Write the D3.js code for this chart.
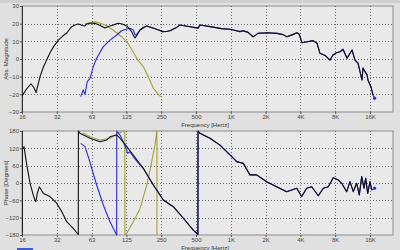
<!DOCTYPE html>
<html><head><meta charset="utf-8">
<script src="https://cdn.jsdelivr.net/npm/d3@7"></script>
<style>html,body{margin:0;padding:0;background:#e0e0e0;overflow:hidden}</style>
</head><body><svg id="c" width="400" height="250"></svg>
<script>
// ---- data ----
const freqTicks = [16,32,64,128,256,512,1024,2048,4096,8192,16384];
const freqLabels = ["16","32","63","125","250","500","1K","2K","4K","8K","16K"];
const magTicks = [30,20,10,0,-10,-20,-30];
const phaseTicks = [180,120,60,0,-60,-120,-180];

// magnitude [freq Hz, dB]
const magBlack = [[16,-21],[17.5,-17],[19.1,-14],[20.2,-16],[21.2,-19],[22.9,-10],[24.5,-4.5],[27.9,3.4],[30,7],[33,10.7],[36,13],[39,14.7],[43,18.3],[46,19.2],[48.8,19.8],[51,19.5],[53,19],[56,18.7],[58,19.8],[62,20.2],[66,20.3],[70,20],[76,19],[83.6,17.5],[88,18.2],[95.5,19],[102,19.6],[109,20.2],[118,19.8],[129,18.7],[142,15.5],[148,13],[152,12],[158,13.5],[168,16.4],[180,18],[192,18.7],[217,17.5],[240,16.5],[265,15.5],[285,15.6],[305,16],[340,17.5],[372,19.2],[430,18.5],[533,17.5],[554,19.2],[700,18.2],[850,17.2],[1008,16.8],[1100,16.3],[1230,15.5],[1306,16],[1380,15.5],[1442,15.1],[1520,13.8],[1594,12.6],[1680,13.5],[1761,14.5],[2106,14.9],[2570,14.5],[2900,13.8],[3137,12.6],[3500,13.8],[3830,14.9],[4000,14],[4230,9.2],[4700,9.8],[5265,10.4],[5700,8.9],[6050,3.2],[6700,2],[7385,-0.6],[7840,2.3],[8400,3.5],[9010,4.1],[9570,5.5],[10370,0.4],[11450,5.1],[12150,-0.6],[12900,-2.3],[13970,-11.9],[14250,-5.1],[14800,-7],[15440,-9],[15750,-12],[16720,-15.8],[17400,-20.4]];
const magBlueLow = [[51.5,-21.3],[54.2,-17.5],[56.1,-20],[58.7,-12.8],[62,-11],[66.2,-4.3],[70.8,0.4],[80.8,7],[92.3,10.7],[105.5,13.6],[116.5,16],[129,17],[137.5,17.4],[146.8,16.4],[152,13.6],[157,14],[168,16.4]];
const magBlueEnd = [17950,-22.2];
const magOlive = [[56,20],[62,20.6],[68.5,21],[76,20.3],[83.6,19.2],[98,16.4],[116.5,12.6],[132,8.9],[146,4.1],[161,-0.6],[179,-4.3],[198,-10],[219,-16.6],[242,-20],[253,-21.3]];

// phase [freq Hz, degrees]
const phaseBlack = [[16,-170],[16.05,118],[16.4,120],[16.65,126],[17.6,62],[18.8,-1],[20,-41],[20.7,-59],[21.1,-64],[21.7,-36],[22.6,-13],[24.5,-36],[27.9,-47],[31.9,-70],[35.3,-99],[39,-134],[44.4,-157],[48.1,-174],[49.1,-178],[49.2,180],[50.8,172],[62,155],[75.6,143],[86.5,149],[92.3,160],[105.5,166],[112.7,155],[129,126],[146.8,97],[179,51],[219,-7],[267,-59],[326,-82],[398,-122],[485,-163],[519,-174],[532,-178],[533,180],[554,172],[676,155],[826,131],[1008,97],[1152,74],[1313,68],[1501,28],[1715,28],[2093,4.6],[2555,-13],[3117,-30],[3806,-18],[4203,-47],[4643,-18],[5130,-13],[5850,-44],[6462,-18],[7140,-13],[7886,18],[8713,10],[9325,-1],[10298,-30],[11000,4.6],[11745,-30],[12570,-1],[13243,-41],[13885,22],[14540,-18],[15034,16],[15650,-36],[16384,4.6],[16950,-24]];
const phaseBlueLow = [[51.5,137],[56.1,126],[59.9,91],[64.1,51],[70.8,-7],[80.8,-76],[92.3,-134],[105.4,-180],[105.6,180],[112.7,166],[120.3,143],[127,120],[131.3,103],[137.5,108],[146.8,91],[160,72]];
const phaseBlueEnd = [17950,-18];
const phaseOlive = [[54.2,172],[62,160],[75.6,149],[92.3,155],[109,172],[120.3,178],[124,180],[124.3,-180],[129,-174],[146.8,-134],[168,-88],[192,-7],[212,74],[226,131],[234,177],[235,180],[235.3,-180]];

// ---- drawing ----
const svg = d3.select("#c");
svg.append("rect").attr("x",0).attr("y",0).attr("width",400).attr("height",3).attr("fill","#cfcfcf");

const L = 22, R = 393;
const x = d3.scaleLog().domain([16, 16384*Math.pow(2,23/34.8)]).range([L,R]);
const font = "'Liberation Sans', Arial, sans-serif";

function panel(top, bottom, yDomain, yTicks, yTitle, series, extraDots){
  const y = d3.scaleLinear().domain(yDomain).range([bottom, top]);
  const g = svg.append("g");
  g.append("rect").attr("x",L).attr("y",top).attr("width",R-L).attr("height",bottom-top)
    .attr("fill","#e9e9e9").attr("stroke","#8c8c8c").attr("stroke-width",1);
  // grid
  g.selectAll(".gx").data(freqTicks.slice(1)).join("line")
    .attr("x1",d=>Math.round(x(d))+0.5).attr("x2",d=>Math.round(x(d))+0.5)
    .attr("y1",top).attr("y2",bottom).attr("stroke","#6a6a6a").attr("stroke-dasharray","1,2");
  g.selectAll(".gy").data(yTicks.slice(1,-1)).join("line")
    .attr("y1",d=>Math.round(y(d))+0.5).attr("y2",d=>Math.round(y(d))+0.5)
    .attr("x1",L).attr("x2",R).attr("stroke","#6a6a6a").attr("stroke-dasharray","1,2");
  g.append("line").attr("x1",L+0.5).attr("x2",L+0.5).attr("y1",top).attr("y2",bottom+2).attr("stroke","#333");
  // axes
  const ax = g.append("g").attr("transform",`translate(0,${bottom})`)
    .call(d3.axisBottom(x).tickValues(freqTicks).tickFormat((d,i)=>freqLabels[i]).tickSize(2).tickPadding(1));
  const ay = g.append("g").attr("transform",`translate(${L},0)`)
    .call(d3.axisLeft(y).tickValues(yTicks).tickSize(2).tickPadding(1));
  [ax,ay].forEach(a=>{
    a.select(".domain").remove();
    a.selectAll("line").attr("stroke","#555");
    a.selectAll("text").attr("font-family",font).attr("font-size","6px").attr("fill","#444");
  });
  g.append("text").attr("x",205).attr("y",bottom+15).attr("text-anchor","middle")
    .attr("font-family",font).attr("font-size","6px").attr("fill","#333").text("Frequency [Hertz]");
  g.append("text").attr("transform",`translate(8,${(top+bottom)/2}) rotate(-90)`).attr("text-anchor","middle")
    .attr("font-family",font).attr("font-size","6px").attr("fill","#333").text(yTitle);
  const clip = "clip"+top;
  svg.append("clipPath").attr("id",clip).append("rect").attr("x",L).attr("y",top-1).attr("width",R-L).attr("height",bottom-top+2);
  const line = d3.line().x(d=>x(d[0])).y(d=>y(d[1]));
  const cg = g.append("g").attr("clip-path",`url(#${clip})`);
  series.forEach(s=>{
    cg.append("path").datum(s.data).attr("d",line).attr("fill","none")
      .attr("stroke",s.color).attr("stroke-width",s.w||1.1).attr("stroke-linejoin","round");
  });
  extraDots.forEach(p=>{
    cg.append("circle").attr("cx",x(p[0])).attr("cy",y(p[1])).attr("r",1.6).attr("fill","#2a2ae6");
  });
}

const blueMag = magBlueLow.concat(magBlack.filter(d=>d[0]>=192), [magBlueEnd]);
const bluePhase = phaseBlueLow.concat(phaseBlack.filter(d=>d[0]>=179), [phaseBlueEnd]);

panel(6, 112, [-30,30], magTicks, "Abs. Magnitude", [
  {data: magOlive, color:"#a3a33a"},
  {data: blueMag, color:"#2a2ae6"},
  {data: magBlack, color:"#111"}
], [magBlueEnd]);

panel(131, 235, [-180,180], phaseTicks, "Phase [Degrees]", [
  {data: phaseOlive, color:"#a3a33a"},
  {data: bluePhase, color:"#2a2ae6"},
  {data: phaseBlack, color:"#111"}
], [phaseBlueEnd]);

svg.append("rect").attr("x",17).attr("y",248).attr("width",16).attr("height",2).attr("fill","#3a5fc8");
</script></body></html>
